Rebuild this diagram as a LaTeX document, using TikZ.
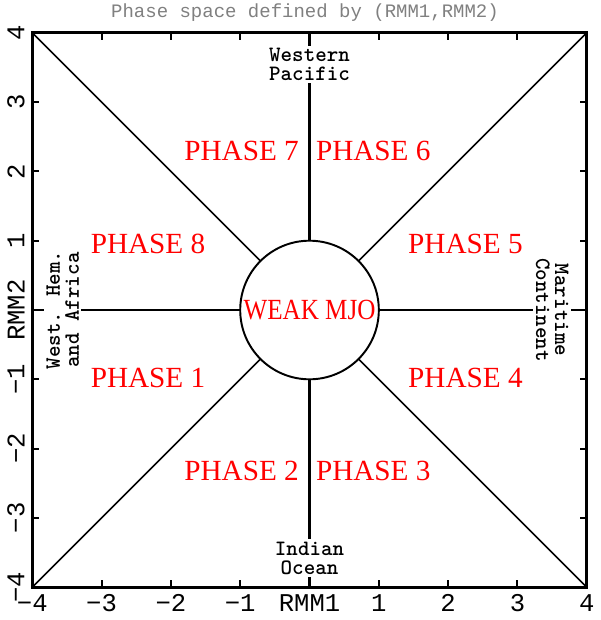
\documentclass[tikz,border=0pt]{standalone}
\usepackage{fontspec}
\newfontfamily\monofont{Liberation Mono}
\newfontfamily\phasefont{Liberation Serif}
\newfontfamily\regionfont{lmmonolt10-bold.otf}
\usetikzlibrary{calc}

\begin{document}
\begin{tikzpicture}[
		% Frame and line styles
		box frame/.style={line width=1.2pt},
		axis line/.style={line width=1pt},
		diag line/.style={line width=0.65pt},
		tick mark/.style={line width=0.8pt},
		% Text styles
		phase label/.style={text=red, font=\phasefont\fontsize{12}{14}\selectfont, inner sep=1pt},
		region label/.style={font=\regionfont\fontsize{9}{7.8}\selectfont, align=center, fill=white, inner sep=1pt},
		tick label/.style={font=\monofont\fontsize{10.5}{12}\selectfont, inner sep=0pt}
		]
		\useasboundingbox (-4.466,-4.473) rectangle (4.192,4.473);
		
		% ==============================================================================
		% 1. TITLE & FRAME
		% ==============================================================================
		\node[font=\monofont\fontsize{7.8}{9}\selectfont, text=gray] (title) at (-0.065, 4.29) {Phase space defined by (RMM1,RMM2)};
		
		\coordinate (O) at (0,0);
		\coordinate (SW) at (-4,-4);
		\coordinate (NE) at (4,4);
		\coordinate (NW) at (-4,4);
		\coordinate (SE) at (4,-4);
		\coordinate (N) at (0,4);
		\coordinate (S) at (0,-4);
		\coordinate (W) at (-4,0);
		\coordinate (E) at (4,0);
		
		% ticks on all four sides
		\foreach \i in {-3,...,3} {
			\draw[tick mark] (\i,-4) -- ++(0,0.1);
			\draw[tick mark] (\i,4) -- ++(0,-0.1);
			\draw[tick mark] (-4,\i) -- ++(0.1,0);
			\draw[tick mark] (4,\i) -- ++(-0.1,0);
		}
		
		% axis labels
		\foreach \i/\t in {-4/−4, -3/−3, -2/−2, -1/−1, 0/RMM1, 1/1, 2/2, 3/3, 4/4} {
			\node[tick label] (xl\i) at (\i,-4.23) {\t};
		}
		\foreach \i/\t in {-4/−4, -3/−3, -2/−2, -1/−1, 0/RMM2, 1/1, 2/2, 3/3, 4/4} {
			\node[tick label, rotate=90] (yl\i) at (-4.235,\i) {\t};
		}
		
		% ==============================================================================
		% 2. CIRCLE, AXES AND DIAGONALS
		% ==============================================================================
		\node[circle, draw, line width=0.8pt, minimum size=2cm, inner sep=0pt, outer sep=0pt] (weak) at (O) {};
		
		\draw[diag line] (NE) -- (weak);
		\draw[diag line] (NW) -- (weak);
		\draw[diag line] (SW) -- (weak);
		\draw[diag line] (SE) -- (weak);
		
		\draw[axis line] (N) -- (weak);
		\draw[axis line] (S) -- (weak);
		\draw[axis line] (W) -- (weak);
		\draw[axis line] (E) -- (weak);
		
		\draw[box frame] (SW) rectangle (NE);
		
		% ==============================================================================
		% 3. REGION AND PHASE LABELS
		% ==============================================================================
		\node[region label] (wpac) at (0,3.54) {Western\\Pacific};
		\node[region label] (indo) at (0,-3.58) {Indian\\Ocean};
		\node[region label, rotate=90] (whem) at (-3.56,0) {West. Hem.\\and Africa};
		\node[region label, rotate=-90] (mcont) at (3.50,0) {Maritime\\Continent};
		
		\node[phase label] (p7) at (-0.98, 2.29) {PHASE 7};
		\node[phase label] (p6) at (0.92, 2.29) {PHASE 6};
		\node[phase label] (p8) at (-2.33, 0.95) {PHASE 8};
		\node[phase label] (p5) at (2.25, 0.95) {PHASE 5};
		\node[phase label] (p1) at (-2.33, -0.98) {PHASE 1};
		\node[phase label] (p4) at (2.25, -0.98) {PHASE 4};
		\node[phase label] (p2) at (-0.98, -2.32) {PHASE 2};
		\node[phase label] (p3) at (0.92, -2.32) {PHASE 3};
		
		\node[phase label, xscale=0.86, transform shape] (weaklbl) at (weak) {WEAK MJO};
	\end{tikzpicture}
\end{document}
